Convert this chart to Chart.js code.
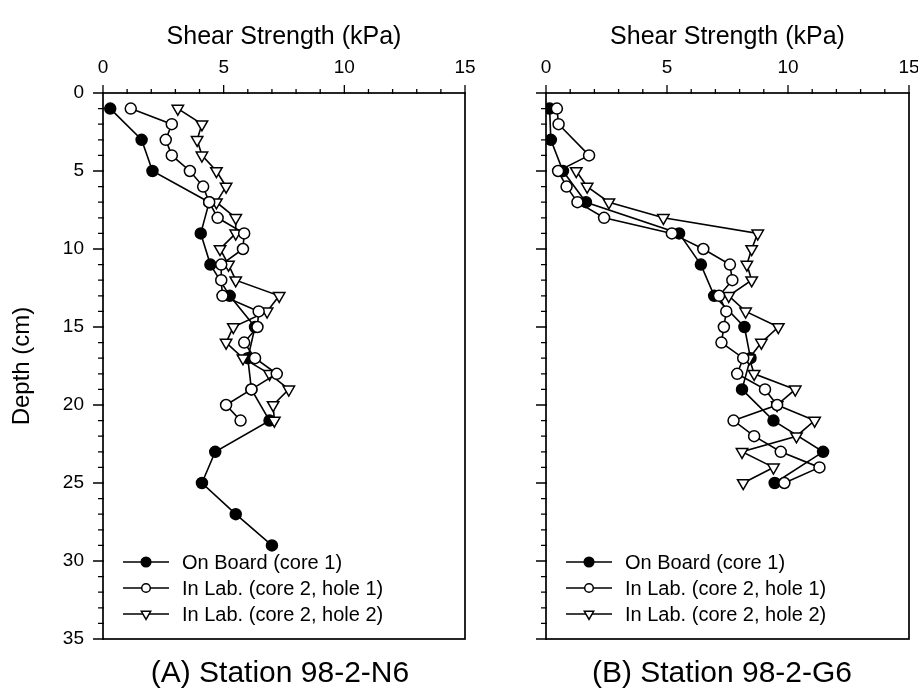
<!DOCTYPE html>
<html><head><meta charset="utf-8">
<script src="https://cdn.jsdelivr.net/npm/chart.js@4.4.1/dist/chart.umd.min.js"></script>
<style>
html,body{margin:0;padding:0;background:#fff;}
#wrap{position:relative;width:918px;height:699px;overflow:hidden;}
canvas{position:absolute;left:0;top:0;}
.cap{position:absolute;top:654px;width:360px;text-align:center;font-family:'Liberation Sans',Arial,sans-serif;font-size:30px;color:#000;line-height:36px;}
</style></head>
<body><div id="wrap">
<canvas id="cA" width="918" height="699"></canvas>
<canvas id="cB" width="918" height="699"></canvas>
<div class="cap" style="left:100px">(A) Station 98-2-N6</div>
<div class="cap" style="left:542px">(B) Station 98-2-G6</div>
</div>
<script>
// ---- data ----
const seriesLabels = ['On Board (core 1)', 'In Lab. (core 2, hole 1)', 'In Lab. (core 2, hole 2)'];
const xTicksMajor = [0, 5, 10, 15];
const yTicksMajor = [0, 5, 10, 15, 20, 25, 30, 35];

// Station 98-2-N6
const depthA_board = [1, 3, 5, 7, 9, 11, 13, 15, 17, 19, 21, 23, 25, 27, 29];
const strengthA_board = [0.3, 1.6, 2.05, 4.4, 4.05, 4.45, 5.25, 6.3, 6.0, 6.15, 6.9, 4.65, 4.1, 5.5, 7.0];
const depthA_hole1 = [1,2,3,4,5,6,7,8,9,10,11,12,13,14,15,16,17,18,19,20,21];
const strengthA_hole1 = [1.15, 2.85, 2.6, 2.85, 3.6, 4.15, 4.4, 4.75, 5.85, 5.8, 4.9, 4.9, 4.95, 6.45, 6.4, 5.85, 6.3, 7.2, 6.15, 5.1, 5.7];
const depthA_hole2 = [1,2,3,4,5,6,7,8,9,10,11,12,13,14,15,16,17,18,19,20,21];
const strengthA_hole2 = [3.1, 4.1, 3.9, 4.1, 4.7, 5.1, 4.7, 5.5, 5.5, 4.85, 5.2, 5.5, 7.3, 6.8, 5.4, 5.1, 5.8, 6.9, 7.7, 7.05, 7.1];

// Station 98-2-G6
const depthB_board = [1, 3, 5, 7, 9, 11, 13, 15, 17, 19, 21, 23, 25];
const strengthB_board = [0.15, 0.2, 0.7, 1.65, 5.5, 6.4, 6.95, 8.2, 8.45, 8.1, 9.4, 11.45, 9.45];
const depthB_hole1 = [1,2,4,5,6,7,8,9,10,11,12,13,14,15,16,17,18,19,20,21,22,23,24,25];
const strengthB_hole1 = [0.45, 0.52, 1.78, 0.5, 0.85, 1.3, 2.4, 5.2, 6.5, 7.6, 7.7, 7.15, 7.45, 7.35, 7.25, 8.15, 7.9, 9.05, 9.55, 7.75, 8.6, 9.7, 11.3, 9.85];
const depthB_hole2 = [5,6,7,8,9,10,11,12,13,14,15,16,17,18,19,20,21,22,23,24,25];
const strengthB_hole2 = [1.25, 1.7, 2.6, 4.85, 8.75, 8.5, 8.3, 8.5, 7.55, 8.25, 9.6, 8.9, 8.4, 8.6, 10.3, 9.55, 11.1, 10.35, 8.1, 9.4, 8.15];

const FONT = "'Liberation Sans', Arial, Helvetica, sans-serif";

function pts(depths, vals){ return depths.map((d,i)=>({x: vals[i], y: d})); }

const styles = [
  {pointStyle:'circle', rotation:0, fill:'#000', radius:5.5, legR:4.8, order:3},
  {pointStyle:'circle', rotation:0, fill:'#fff', radius:5.5, legR:4.3, order:1},
  {pointStyle:'triangle', rotation:180, fill:'#fff', radius:6.6, legR:5.4, order:2}
];

function makeDataset(i, data){
  const s = styles[i];
  return {
    label: seriesLabels[i], data, showLine:true, tension:0,
    borderColor:'#000', borderWidth:1.6,
    pointStyle:s.pointStyle, pointRotation:s.rotation,
    pointBackgroundColor:s.fill, pointBorderColor:'#000', pointBorderWidth:1.5,
    pointRadius:s.radius, pointHoverRadius:s.radius, order:s.order
  };
}

function drawMarker(ctx, s, x, y, r){
  ctx.beginPath();
  if (s.pointStyle === 'circle') {
    ctx.arc(x, y, r, 0, Math.PI*2);
  } else {
    const a = Math.PI/2, step = 2*Math.PI/3;
    for (let k=0;k<3;k++){
      const ang = a + k*step;
      const px = x + Math.cos(ang)*r, py = y + Math.sin(ang)*r;
      if(k===0) ctx.moveTo(px,py); else ctx.lineTo(px,py);
    }
    ctx.closePath();
  }
  ctx.fillStyle = s.fill; ctx.fill();
  ctx.lineWidth = 1.5; ctx.strokeStyle = '#000'; ctx.stroke();
}

const framePlugin = {
  id: 'frameTicks',
  afterDraw(chart){
    const {ctx, chartArea:a} = chart;
    const x = chart.scales.x, y = chart.scales.y;
    ctx.save();
    ctx.strokeStyle = '#000';
    ctx.lineWidth = 1.7;
    ctx.strokeRect(a.left, a.top, a.right - a.left, a.bottom - a.top);
    ctx.lineWidth = 1.3;
    ctx.beginPath();
    for (let v = x.min; v <= x.max; v++) {
      const px = x.getPixelForValue(v);
      const len = (v % 5 === 0) ? 8 : 4;
      ctx.moveTo(px, a.top + 1); ctx.lineTo(px, a.top - len);
    }
    for (let v = y.min; v <= y.max; v++) {
      const py = y.getPixelForValue(v);
      const len = (v % 5 === 0) ? 10 : 5;
      ctx.moveTo(a.left + 1, py); ctx.lineTo(a.left - len, py);
    }
    ctx.stroke();
    // legend
    const rows = [a.bottom - 77, a.bottom - 51, a.bottom - 25];
    ctx.font = "20px " + FONT;
    ctx.textBaseline = 'middle';
    ctx.textAlign = 'left';
    chart.data.datasets.forEach((ds, i) => {
      const yy = rows[i];
      const x0 = a.left + 20, x1 = a.left + 66, xm = a.left + 43;
      ctx.beginPath(); ctx.moveTo(x0, yy); ctx.lineTo(x1, yy);
      ctx.lineWidth = 1.5; ctx.strokeStyle = '#000'; ctx.stroke();
      drawMarker(ctx, styles[i], xm, yy, styles[i].legR);
      ctx.fillStyle = '#000';
      ctx.fillText(ds.label, a.left + 79, yy + 1);
    });
    ctx.restore();
  }
};

function makeChart(id, datasets, plotLeft, plotRight, showYLabels){
  const padLeft = showYLabels ? 0 : plotLeft - 30;
  return new Chart(document.getElementById(id), {
    type: 'scatter',
    data: { datasets },
    options: {
      responsive: false, animation: false,
      layout: { padding: { left: padLeft, right: 918 - plotRight, top: 0, bottom: 699 - 639 } },
      plugins: { legend: { display: false }, tooltip: { enabled: false } },
      scales: {
        x: {
          type: 'linear', position: 'top', min: 0, max: 15,
          afterFit(scale){ scale.height = 93; scale.paddingLeft = 0; scale.paddingRight = 0; },
          afterBuildTicks(scale){ scale.ticks = xTicksMajor.map(v => ({value: v})); },
          grid: { display: false, drawTicks: false }, border: { display: false },
          ticks: { color: '#000', font: { family: FONT, size: 19 }, padding: 14, maxRotation: 0 },
          title: { display: true, text: 'Shear Strength (kPa)', color: '#000',
                   font: { family: FONT, size: 25 }, padding: { top: 22, bottom: 0 } }
        },
        y: {
          type: 'linear', position: 'left', reverse: true, min: 0, max: 35,
          afterFit(scale){ scale.width = showYLabels ? plotLeft : 30; scale.paddingTop = 0; scale.paddingBottom = 0; },
          afterBuildTicks(scale){ scale.ticks = yTicksMajor.map(v => ({value: v})); },
          grid: { display: false, drawTicks: false }, border: { display: false },
          ticks: { display: showYLabels, color: '#000', font: { family: FONT, size: 19 }, padding: 19 },
          title: { display: showYLabels, text: 'Depth (cm)', color: '#000',
                   font: { family: FONT, size: 24 }, padding: { top: 8, bottom: 0 } }
        }
      }
    },
    plugins: [framePlugin]
  });
}

makeChart('cA', [
  makeDataset(0, pts(depthA_board, strengthA_board)),
  makeDataset(1, pts(depthA_hole1, strengthA_hole1)),
  makeDataset(2, pts(depthA_hole2, strengthA_hole2))
], 103, 465, true);

makeChart('cB', [
  makeDataset(0, pts(depthB_board, strengthB_board)),
  makeDataset(1, pts(depthB_hole1, strengthB_hole1)),
  makeDataset(2, pts(depthB_hole2, strengthB_hole2))
], 546, 909, false);
</script>
</body></html>
